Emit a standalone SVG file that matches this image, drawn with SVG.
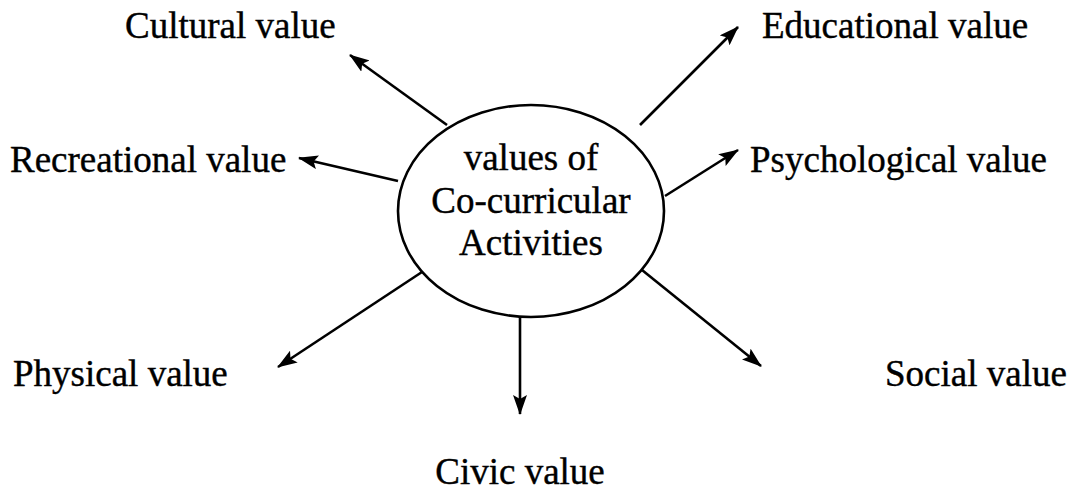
<svg xmlns="http://www.w3.org/2000/svg" width="1075" height="495" viewBox="0 0 1075 495">
  <style>
    .lbl { font-family: "Liberation Serif", "Times New Roman", serif; font-size: 37px; fill: #000; stroke: #000; stroke-width: 0.4; }
    .edge { stroke: #000; stroke-width: 2.6; fill: none; marker-end: url(#head); }
  </style>
  <defs>
    <marker id="head" viewBox="0 0 20 14" refX="19" refY="7" markerWidth="20" markerHeight="14" markerUnits="userSpaceOnUse" orient="auto">
      <path d="M0,0 L20,7 L0,14 L4,7 Z" fill="#000"/>
    </marker>
  </defs>
  <rect width="1075" height="495" fill="#fff"/>

  <g id="center">
    <ellipse cx="531" cy="211" rx="133" ry="106" fill="none" stroke="#000" stroke-width="2.6"/>
    <text class="lbl" x="531" y="170" text-anchor="middle">values of</text>
    <text class="lbl" x="531" y="213" text-anchor="middle">Co-curricular</text>
    <text class="lbl" x="531" y="255" text-anchor="middle">Activities</text>
  </g>

  <g id="connectors">
    <line class="edge" x1="447" y1="125" x2="350" y2="55"/>
    <line class="edge" x1="398" y1="181" x2="299" y2="158"/>
    <line class="edge" x1="640" y1="125" x2="738" y2="27"/>
    <line class="edge" x1="665" y1="196" x2="738" y2="150"/>
    <line class="edge" x1="422" y1="272" x2="278" y2="367"/>
    <line class="edge" x1="520" y1="317" x2="520" y2="414"/>
    <line class="edge" x1="642" y1="270" x2="761" y2="366"/>
  </g>

  <g id="cultural"><text class="lbl" x="125" y="38">Cultural value</text></g>
  <g id="educational"><text class="lbl" x="762" y="38">Educational value</text></g>
  <g id="recreational"><text class="lbl" x="10" y="172">Recreational value</text></g>
  <g id="psychological"><text class="lbl" x="750" y="172">Psychological value</text></g>
  <g id="physical"><text class="lbl" x="13" y="386">Physical value</text></g>
  <g id="social"><text class="lbl" x="885" y="386">Social value</text></g>
  <g id="civic"><text class="lbl" x="520" y="484" text-anchor="middle">Civic value</text></g>
</svg>
